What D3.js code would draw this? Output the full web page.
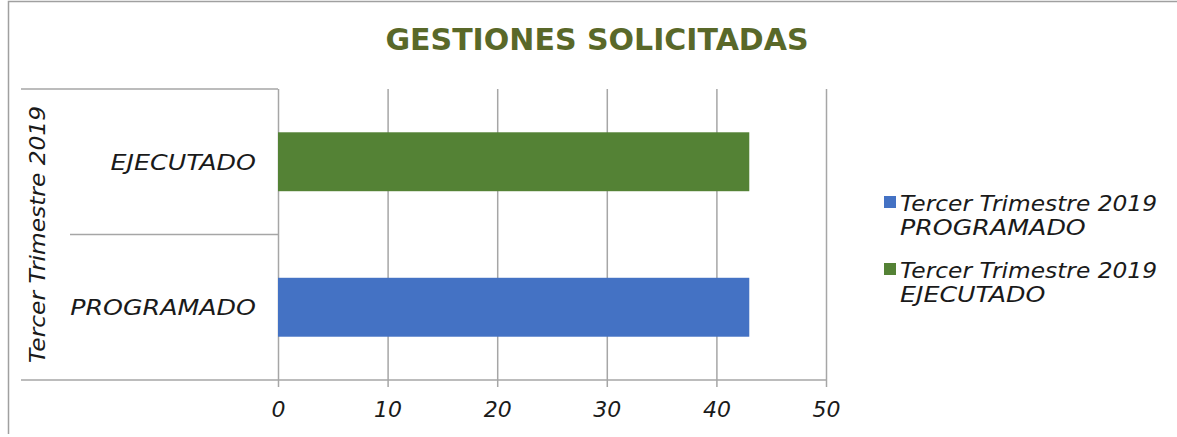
<!DOCTYPE html>
<html>
<head>
<meta charset="utf-8">
<script src="https://cdn.jsdelivr.net/npm/d3@7"></script>
<style>
  body { margin: 0; background: #fff; }
  svg { display: block; }
</style>
</head>
<body>
<div id="chart"></div>
<script>
// data
const groupLabel = "Tercer Trimestre 2019";
const categories = ["EJECUTADO", "PROGRAMADO"];
const values = [43, 43];
const seriesNames = ["PROGRAMADO", "EJECUTADO"];
const seriesColors = ["#4472c4", "#548235"];
const xTicks = [0, 10, 20, 30, 40, 50];

const W = 1177, H = 437;
const margin = { top: 89, left: 278, right: 351, bottom: 57 };
const width = W - margin.left - margin.right;
const height = H - margin.top - margin.bottom;
const font = "'DejaVu Sans', sans-serif";
const gridColor = "#a6a6a6";
const textColor = "#1a1a1a";

// the original font is wider than DejaVu, caps even more so: stretch a little
function widen(sel) {
  sel.each(function () {
    const t = d3.select(this);
    const k = /[a-z]/.test(t.text()) ? 1.06 : 1.15;
    t.attr("lengthAdjust", "spacingAndGlyphs")
      .attr("textLength", this.getComputedTextLength() * k);
  });
}

function labelStyle(sel) {
  sel.attr("fill", textColor)
    .style("font-family", font)
    .style("font-style", "italic")
    .style("font-size", "22px");
}

const svg = d3.select("#chart").append("svg")
  .attr("width", W)
  .attr("height", H);

// outer frame (only left and top edges are visible)
svg.append("path")
  .attr("d", `M8.5,434 V1.5 H${W}`)
  .attr("fill", "none")
  .attr("stroke", "#a0a0a0")
  .attr("stroke-width", 1.5);

// title
svg.append("text")
  .attr("x", 597)
  .attr("y", 50)
  .attr("text-anchor", "middle")
  .attr("fill", "#596829")
  .style("font-family", "'DejaVu Sans', Verdana, sans-serif")
  .style("font-weight", "bold")
  .style("font-size", "30px")
  .text("GESTIONES SOLICITADAS");

const g = svg.append("g")
  .attr("transform", `translate(${margin.left},${margin.top})`);

const x = d3.scaleLinear().domain([0, 50]).range([0, width]);
const y = d3.scaleBand().domain(categories).range([0, height]).paddingInner(0.595).paddingOuter(0.2975);

// vertical gridlines with short ticks under the axis
g.append("g")
  .attr("transform", `translate(0,${height})`)
  .call(d3.axisBottom(x).tickValues(xTicks).tickSize(-height).tickSizeOuter(0))
  .call(ax => ax.select(".domain").remove())
  .call(ax => ax.selectAll(".tick line")
    .attr("y2", -height).attr("y1", 7)
    .attr("stroke", gridColor).attr("stroke-width", 1.5))
  .call(ax => ax.selectAll(".tick text")
    .attr("y", 37).attr("dy", null)
    .call(labelStyle));

// category axis lines
g.append("line")
  .attr("x1", 21 - margin.left).attr("x2", width)
  .attr("y1", height).attr("y2", height)
  .attr("stroke", gridColor).attr("stroke-width", 1.5);
g.append("line")
  .attr("x1", 21 - margin.left).attr("x2", 0)
  .attr("y1", 0).attr("y2", 0)
  .attr("stroke", gridColor).attr("stroke-width", 1.5);
g.append("line")
  .attr("x1", 70 - margin.left).attr("x2", 0)
  .attr("y1", height / 2).attr("y2", height / 2)
  .attr("stroke", gridColor).attr("stroke-width", 1.5);

// bars
g.selectAll("rect.bar")
  .data(categories)
  .enter().append("rect")
  .attr("class", "bar")
  .attr("x", x(0))
  .attr("y", d => y(d))
  .attr("width", (d, i) => x(values[i]))
  .attr("height", y.bandwidth())
  .attr("fill", d => seriesColors[seriesNames.indexOf(d)]);

// category labels
g.selectAll("text.cat")
  .data(categories)
  .enter().append("text")
  .attr("class", "cat")
  .attr("x", -22)
  .attr("y", d => y(d) + y.bandwidth() / 2)
  .attr("dy", "0.36em")
  .attr("text-anchor", "end")
  .call(labelStyle)
  .text(d => d)
  .call(widen);

// group label, rotated
svg.append("text")
  .attr("transform", `translate(45,${margin.top + height / 2}) rotate(-90)`)
  .attr("text-anchor", "middle")
  .call(labelStyle)
  .text(groupLabel)
  .call(widen);

// legend
const legend = svg.selectAll(".legend")
  .data(seriesNames)
  .enter().append("g")
  .attr("class", "legend")
  .attr("transform", (d, i) => `translate(884,${196 + i * 67})`);

legend.append("rect")
  .attr("width", 12)
  .attr("height", 12)
  .attr("fill", (d, i) => seriesColors[i]);

legend.append("text")
  .attr("x", 16)
  .attr("y", 15)
  .call(labelStyle)
  .text(groupLabel)
  .call(widen);

legend.append("text")
  .attr("x", 16)
  .attr("y", 39)
  .call(labelStyle)
  .text(d => d)
  .call(widen);
</script>
</body>
</html>
